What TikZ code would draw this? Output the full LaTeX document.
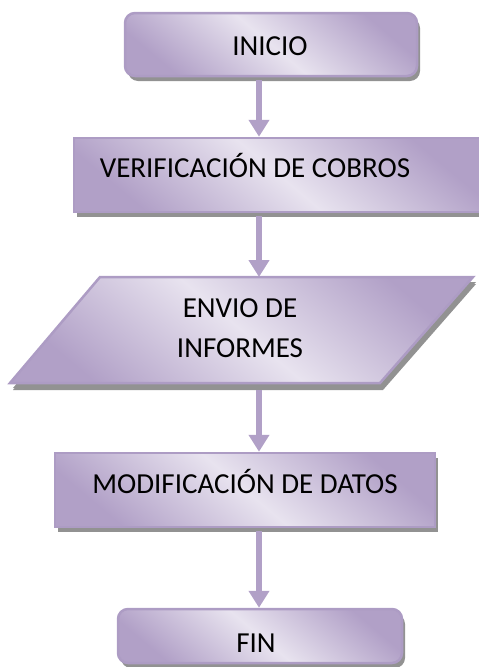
\documentclass[tikz,border=0pt]{standalone}
\usepackage{fontspec}
\setmainfont{Carlito}
\usetikzlibrary{arrows.meta,shadows}
\definecolor{pdark}{HTML}{B1A0C7}
\definecolor{plight}{HTML}{E8E3EF}
\definecolor{pborder}{HTML}{AD9CC4}
\definecolor{shadowgray}{HTML}{929292}
\tikzset{
  flowshape/.style={draw=pborder, line width=2.5pt, top color=pdark, bottom color=pdark, middle color=plight, shading angle=-40, inner sep=0pt,
    drop shadow={shadow xshift=3pt, shadow yshift=-5pt, fill=shadowgray, opacity=1}},
  termbox/.style={flowshape, rounded corners=10pt},
  procbox/.style={flowshape},
  iobox/.style={flowshape, drop shadow={shadow xshift=3pt, shadow yshift=-7pt, fill=shadowgray, opacity=1}},
  lbl/.style={font=\fontsize{29}{35}\selectfont, anchor=base, inner sep=0pt},
  flow/.style={draw=pdark, line width=6pt, -{Triangle[width=20pt,length=17pt]}, shorten <=3pt},
}
\begin{document}
\begin{tikzpicture}[x=1pt,y=-1pt]
\clip (0,0) rectangle (479,667);
\coordinate (axis) at (259,0);
\node[termbox, minimum width=292pt, minimum height=63pt] (inicio) at (271,44.5) {};
\node[procbox, minimum width=410pt, minimum height=74pt] (verif) at (279,175) {};
\path[iobox] (10,383) -- (100,277) -- (473,277) -- (380,383) -- cycle;
\coordinate (envio-top) at (259,277);
\coordinate (envio-bot) at (259,383);
\node[procbox, minimum width=380pt, minimum height=74pt] (modif) at (245,490) {};
\node[termbox, minimum width=284pt, minimum height=54pt] (fin) at (260,636) {};
\node[lbl] (t1) at (270,55) {INICIO};
\node[lbl] (t2) at (255,177) {VERIFICACIÓN DE COBROS};
\node[lbl] (t3a) at (240,317) {ENVIO DE};
\node[lbl] (t3b) at (240,357) {INFORMES};
\node[lbl] (t4) at (245,493) {MODIFICACIÓN DE DATOS};
\node[lbl] (t5) at (256,652) {FIN};
\draw[flow] (inicio.south -| axis) -- (verif.north -| axis);
\draw[flow] (verif.south -| axis) -- (envio-top);
\draw[flow] ([yshift=-4pt]envio-bot) -- (modif.north -| axis);
\draw[flow] (modif.south -| axis) -- (fin.north -| axis);
\end{tikzpicture}
\end{document}
